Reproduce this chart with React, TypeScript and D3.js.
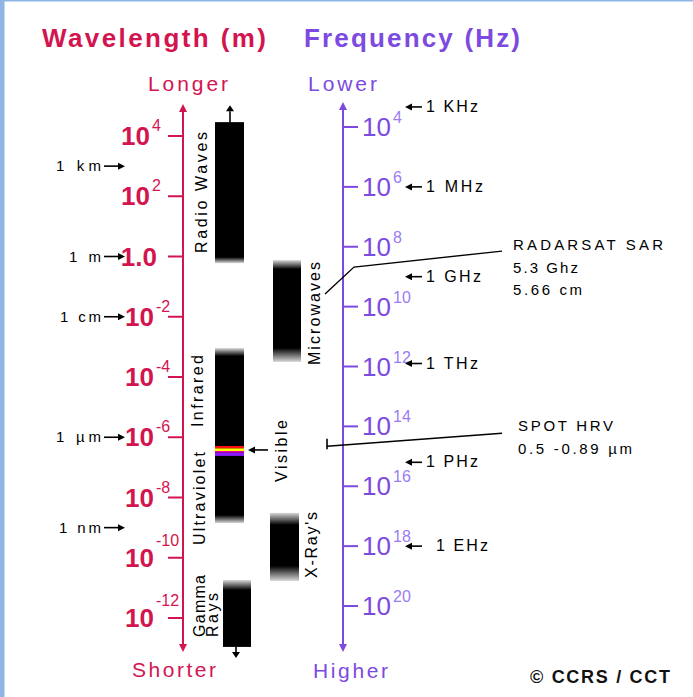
import React from 'react';
import * as d3 from 'd3';

// ---------- data ----------
const wavelengthExponents = [4, 2, 0, -2, -4, -6, -8, -10, -12];
const frequencyExponents = [4, 6, 8, 10, 12, 14, 16, 18, 20];

const wavelengthMarkers = ['1 km', '1 m', '1 cm', '1 µm', '1 nm'];
const wavelengthMarkerExp = [3, 0, -2, -6, -9];

const frequencyMarkers = ['1 KHz', '1 MHz', '1 GHz', '1 THz', '1 PHz', '1 EHz'];
const frequencyMarkerExp = [3.33, 6, 9, 11.9, 15.2, 18];

// bands as wavelength exponent ranges (top = longer, bottom = shorter)
const bandNames = ['Radio Waves', 'Microwaves', 'Infrared / Ultraviolet', 'X-Rays', 'Gamma Rays'];
const bandFrom = [4.46, -0.12, -3.04, -8.51, -10.74];
const bandTo = [-0.22, -3.5, -8.85, -10.77, -12.96];

const visibleColors = ['#ff1010', '#ffff00', '#ff00c0', '#8a1aff'];
const visibleFrom = [-6.29, -6.37, -6.46, -6.51];
const visibleTo = [-6.37, -6.46, -6.51, -6.62];

const regionLabels = ['Radio Waves', 'Microwaves', 'Infrared', 'Ultraviolet', 'Visible', "X-Ray's", 'Gamma', 'Rays'];

const radarsatWavelength = 0.0566; // m
const spotRange = [0.5e-6, 0.89e-6]; // m

// ---------- layout / style ----------
const RED = '#d3154f';
const PURPLE = '#7c4ae0';
const PURPLE_LIGHT = '#9c7cf2';
const FONT = 'Liberation Sans, Arial, Helvetica, sans-serif';

const W = 693, H = 697;
const LX = 183; // wavelength axis x
const RX = 343; // frequency axis x

const yWave = d3.scaleLinear().domain([4, -12]).range([136, 618]);
const yFreq = d3.scaleLinear().domain([4, 20]).range([127, 606]);

const bandLayout: Record<string, { x: number; w: number; fadeTop: number; fadeBottom: number }> = {
  'Radio Waves': { x: 215, w: 29, fadeTop: 0, fadeBottom: 6 },
  'Microwaves': { x: 273, w: 28, fadeTop: 9, fadeBottom: 14 },
  'Infrared / Ultraviolet': { x: 215, w: 29, fadeTop: 8, fadeBottom: 8 },
  'X-Rays': { x: 270, w: 29, fadeTop: 12, fadeBottom: 15 },
  'Gamma Rays': { x: 223, w: 28, fadeTop: 10, fadeBottom: 0 },
};

const labelLayout: Record<string, { x: number; y: number; len: number }> = {
  'Radio Waves': { x: 207, y: 253, len: 121 },
  'Microwaves': { x: 320, y: 365, len: 103 },
  'Infrared': { x: 203, y: 427, len: 72 },
  'Ultraviolet': { x: 205, y: 545, len: 93 },
  'Visible': { x: 287, y: 482, len: 62 },
  "X-Ray's": { x: 317, y: 578, len: 66 },
  'Gamma': { x: 205, y: 637, len: 62 },
  'Rays': { x: 218, y: 637, len: 44 },
};

const leftMarkerLen: Record<string, number> = { '1 km': 45, '1 m': 32, '1 cm': 41, '1 µm': 45, '1 nm': 42 };
const rightMarkerLen: Record<string, number> = { '1 KHz': 52, '1 MHz': 57, '1 GHz': 55, '1 THz': 52, '1 PHz': 52, '1 EHz': 52 };

function Txt(props: any) {
  const { x, y, size, weight = 'normal', fill = '#000', len, anchor = 'start', rot = false, children } = props;
  return (
    <text
      x={x}
      y={y}
      fontSize={size}
      fontWeight={weight}
      fill={fill}
      fontFamily={FONT}
      textAnchor={anchor}
      textLength={len}
      lengthAdjust={len ? 'spacing' : undefined}
      transform={rot ? `rotate(-90 ${x} ${y})` : undefined}
    >
      {children}
    </text>
  );
}

function HArrow({ x1, x2, y, color = '#000' }: any) {
  // arrow head at x2
  const dir = x2 > x1 ? 1 : -1;
  const hx = x2 - dir * 7;
  return (
    <g>
      <line x1={x1} y1={y} x2={hx} y2={y} stroke={color} strokeWidth={1.6} />
      <path d={`M${x2},${y} L${hx},${y - 3.5} L${hx},${y + 3.5} Z`} fill={color} />
    </g>
  );
}

function VArrow({ x, y1, y2, color, width = 2, head = 8, half = 4 }: any) {
  const dir = y2 > y1 ? 1 : -1;
  const hy = y2 - dir * head;
  return (
    <g>
      <line x1={x} y1={y1} x2={x} y2={hy} stroke={color} strokeWidth={width} />
      <path d={`M${x},${y2} L${x - half},${hy} L${x + half},${hy} Z`} fill={color} />
    </g>
  );
}

export default function App() {
  const bands = bandNames.map((name, i) => {
    const L = bandLayout[name];
    const y0 = yWave(bandFrom[i]);
    const y1 = yWave(bandTo[i]);
    return { name, ...L, y0, y1, h: y1 - y0, i };
  });

  const radarY = yWave(Math.log10(radarsatWavelength));
  const spotY0 = yWave(Math.log10(spotRange[1]));
  const spotY1 = yWave(Math.log10(spotRange[0]));

  return (
    <svg width={W} height={H} style={{ position: 'absolute', left: 0, top: 0, background: '#fff' }}>
      <defs>
        {bands.map((b) => (
          <linearGradient key={b.name} id={`grad-${b.i}`} x1="0" y1="0" x2="0" y2="1">
            <stop offset={0} stopColor={b.fadeTop ? '#d8d8d8' : '#000'} />
            <stop offset={b.fadeTop / b.h} stopColor="#000" />
            <stop offset={1 - b.fadeBottom / b.h} stopColor="#000" />
            <stop offset={1} stopColor={b.fadeBottom ? '#d8d8d8' : '#000'} />
          </linearGradient>
        ))}
      </defs>
      <rect x={0} y={0} width={W} height={H} fill="#fff" />
      {/* frame edges */}
      <rect x={0} y={0} width={4.5} height={H} fill="#8eb5e3" />
      <rect x={0} y={0} width={W} height={1.5} fill="#8eb5e3" />

      {/* titles */}
      <Txt x={42} y={47} size={26} weight="bold" fill={RED} len={224}>Wavelength (m)</Txt>
      <Txt x={304} y={47} size={26} weight="bold" fill={PURPLE} len={216}>Frequency (Hz)</Txt>

      <Txt x={148} y={91} size={21} fill={RED} len={80}>Longer</Txt>
      <Txt x={308} y={91} size={21} fill={PURPLE} len={69}>Lower</Txt>
      <Txt x={132} y={677} size={21} fill={RED} len={84}>Shorter</Txt>
      <Txt x={313} y={678} size={21} fill={PURPLE} len={75}>Higher</Txt>

      {/* wavelength axis */}
      <VArrow x={LX} y1={yWave(4) - 20} y2={yWave(4) - 32} color={RED} />
      <line x1={LX} y1={yWave(4) - 24} x2={LX} y2={yWave(-12) + 25} stroke={RED} strokeWidth={2} />
      <VArrow x={LX} y1={yWave(-12) + 20} y2={yWave(-12) + 34} color={RED} />
      {wavelengthExponents.map((e) => {
        const y = yWave(e);
        const end = e >= 0 ? 150 : 154;
        return (
          <g key={`lw${e}`}>
            <line x1={LX - 15} y1={y} x2={LX} y2={y} stroke={RED} strokeWidth={2} />
            {e === 0 ? (
              <Txt x={157} y={y + 9} size={26} weight="bold" fill={RED} anchor="end">1.0</Txt>
            ) : (
              <>
                <Txt x={end} y={y + 9} size={26} weight="bold" fill={RED} anchor="end">10</Txt>
                <Txt x={end + 2} y={Math.abs(e) >= 10 ? y - 12 : y - 5} size={16} fill={RED}>
                  {String(e)}
                </Txt>
              </>
            )}
          </g>
        );
      })}

      {/* wavelength markers */}
      {wavelengthMarkers.map((m, i) => {
        const y = yWave(wavelengthMarkerExp[i]);
        return (
          <g key={m}>
            <Txt x={101} y={y + 5} size={15} anchor="end" len={leftMarkerLen[m]}>{m}</Txt>
            <HArrow x1={104} x2={125} y={y} />
          </g>
        );
      })}

      {/* frequency axis */}
      <VArrow x={RX} y1={yFreq(4) - 16} y2={yFreq(4) - 25} color={PURPLE} />
      <line x1={RX} y1={yFreq(4) - 20} x2={RX} y2={yFreq(20) + 37} stroke={PURPLE} strokeWidth={2} />
      <VArrow x={RX} y1={yFreq(20) + 33} y2={yFreq(20) + 46} color={PURPLE} />
      {frequencyExponents.map((e) => {
        const y = yFreq(e);
        return (
          <g key={`fq${e}`}>
            <line x1={RX} y1={y} x2={RX + 15} y2={y} stroke={PURPLE} strokeWidth={2} />
            <Txt x={362} y={y + 9} size={26} fill={PURPLE}>10</Txt>
            <Txt x={393} y={y - 4} size={16} fill={PURPLE_LIGHT}>{String(e)}</Txt>
          </g>
        );
      })}

      {/* frequency markers */}
      {frequencyMarkers.map((m, i) => {
        const y = yFreq(frequencyMarkerExp[i]);
        const tx = m === '1 EHz' ? 436 : 426;
        return (
          <g key={m}>
            <HArrow x1={422} x2={405} y={y} />
            <Txt x={tx} y={y + 5} size={16} len={rightMarkerLen[m]}>{m}</Txt>
          </g>
        );
      })}

      {/* bands */}
      {bands.map((b) => (
        <rect key={b.name} x={b.x} y={b.y0} width={b.w} height={b.h} fill={`url(#grad-${b.i})`} />
      ))}
      {visibleColors.map((c, i) => {
        const y0 = yWave(visibleFrom[i]);
        const y1 = yWave(visibleTo[i]);
        const L = bandLayout['Infrared / Ultraviolet'];
        return <rect key={c} x={L.x} y={y0} width={L.w} height={y1 - y0} fill={c} />;
      })}

      {/* band arrows */}
      <VArrow x={230} y1={bands[0].y0} y2={bands[0].y0 - 17} color="#000" width={1.6} head={6} half={4} />
      <VArrow x={236} y1={bands[4].y1} y2={bands[4].y1 + 11} color="#000" width={1.6} head={6} half={4} />
      <HArrow x1={268} x2={248} y={yWave((visibleFrom[0] + visibleTo[3]) / 2) - 1} />

      {/* rotated labels */}
      {regionLabels.map((l) => {
        const L = labelLayout[l];
        return (
          <Txt key={l} x={L.x} y={L.y} size={16} rot len={L.len}>{l}</Txt>
        );
      })}

      {/* RADARSAT leader */}
      <polyline
        points={`325,${radarY} 354,${radarY - 27} 502,${radarY - 43}`}
        fill="none"
        stroke="#000"
        strokeWidth={1.4}
      />
      <Txt x={513} y={250} size={15} len={150}>RADARSAT SAR</Txt>
      <Txt x={513} y={273} size={15} len={65}>5.3 Ghz</Txt>
      <Txt x={513} y={295} size={15} len={69}>5.66 cm</Txt>

      {/* SPOT leader */}
      <line x1={327} y1={spotY0} x2={327} y2={spotY1 + 3} stroke="#000" strokeWidth={1.6} />
      <line x1={327} y1={spotY1} x2={502} y2={spotY1 - 13} stroke="#000" strokeWidth={1.4} />
      <Txt x={518} y={431} size={15} len={95}>SPOT HRV</Txt>
      <Txt x={518} y={454} size={15} len={114}>0.5 -0.89 µm</Txt>

      <Txt x={530} y={683} size={18} weight="bold" len={140} fill="#111">© CCRS / CCT</Txt>
    </svg>
  );
}
